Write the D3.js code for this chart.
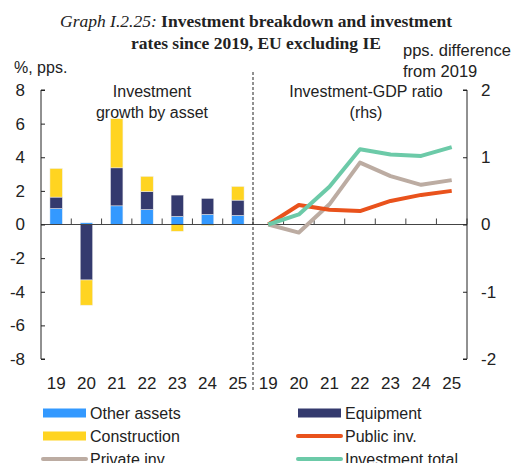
<!DOCTYPE html>
<html>
<head>
<meta charset="utf-8">
<script src="https://cdn.jsdelivr.net/npm/d3@7"></script>
<style>
  body { margin: 0; background: #fff; }
  text { font-family: "Liberation Sans", Arial, sans-serif; fill: #222; }
</style>
</head>
<body>
<div id="chart"></div>
<script>
// data
var years = ["19", "20", "21", "22", "23", "24", "25"];
var otherAssets = [0.95, 0.1, 1.11, 0.89, 0.48, 0.6, 0.54];
var equipment = [0.68, -3.3, 2.26, 1.07, 1.27, 0.95, 0.91];
var construction = [1.7, -1.5, 2.92, 0.9, -0.4, -0.06, 0.81];
var publicInv = [0, 0.29, 0.22, 0.2, 0.35, 0.44, 0.5];
var privateInv = [0, -0.12, 0.3, 0.92, 0.72, 0.59, 0.66];
var investmentTotal = [0, 0.15, 0.56, 1.12, 1.04, 1.02, 1.15];
var leftTicks = [-8, -6, -4, -2, 0, 2, 4, 6, 8];
var rightTicks = [-2, -1, 0, 1, 2];

var W = 513, H = 463;
var svg = d3.select("#chart").append("svg")
    .attr("width", W).attr("height", H);

var plotLeft = 41, plotMid = 253, plotRight = 467, plotTop = 90, plotBottom = 359;

var xL = d3.scaleBand().domain(years).range([plotLeft, plotMid]).padding(0);
var xR = d3.scaleBand().domain(years).range([plotMid, plotRight]).padding(0);
var yL = d3.scaleLinear().domain([-8, 8]).range([plotBottom, plotTop]);
var yR = d3.scaleLinear().domain([-2, 2]).range([plotBottom, plotTop]);
var plainNum = function (d) { return String(d); }; // keep a plain hyphen for negatives

// title
var title = svg.append("text").attr("x", 256).attr("y", 27)
    .attr("text-anchor", "middle")
    .style("font-family", "'Liberation Serif', 'Times New Roman', serif")
    .style("font-size", "17.5px");
title.append("tspan").style("font-style", "italic").text("Graph I.2.25: ");
title.append("tspan").style("font-weight", "bold").text("Investment breakdown and investment");
svg.append("text").attr("x", 256).attr("y", 49)
    .attr("text-anchor", "middle")
    .style("font-family", "'Liberation Serif', 'Times New Roman', serif")
    .style("font-size", "17.5px").style("font-weight", "bold")
    .text("rates since 2019, EU excluding IE");

svg.append("text").attr("x", 14).attr("y", 73).style("font-size", "16px").text("%, pps.");
svg.append("text").attr("x", 403).attr("y", 56).style("font-size", "16.5px").text("pps. difference");
svg.append("text").attr("x", 403).attr("y", 77).style("font-size", "16.5px").text("from 2019");

// stacked bars
var rows = years.map(function (y, i) {
    return { year: y, other: otherAssets[i], equipment: equipment[i], construction: construction[i] };
});
var keys = ["other", "equipment", "construction"];
var colors = { other: "#3399ff", equipment: "#343a6e", construction: "#ffd421" };
var series = d3.stack().keys(keys).offset(d3.stackOffsetDiverging)(rows);
var bw = xL.bandwidth() * 0.41;

svg.append("g").selectAll("g")
    .data(series)
    .enter().append("g")
    .attr("fill", function (s) { return colors[s.key]; })
    .selectAll("rect")
    .data(function (s) { return s; })
    .enter().append("rect")
    .attr("x", function (d) { return xL(d.data.year) + xL.bandwidth() / 2 - bw / 2; })
    .attr("width", bw)
    .attr("y", function (d) { return yL(Math.max(d[0], d[1])); })
    .attr("height", function (d) { return Math.abs(yL(d[0]) - yL(d[1])); })
    .attr("stroke", "#eeeeee")
    .attr("stroke-width", 0.5);

// zero line and category ticks
svg.append("line").attr("x1", plotLeft).attr("x2", plotRight)
    .attr("y1", yL(0)).attr("y2", yL(0))
    .attr("stroke", "#444").attr("stroke-width", 1.2);
var tickXs = years.map(function (y) { return xL(y) + xL.bandwidth(); })
    .concat(years.map(function (y) { return xR(y) + xR.bandwidth(); }));
svg.append("g").selectAll("line").data(tickXs).enter().append("line")
    .attr("x1", function (d) { return d; }).attr("x2", function (d) { return d; })
    .attr("y1", yL(0) - 6).attr("y2", yL(0))
    .attr("stroke", "#444").attr("stroke-width", 1);

// left axis
var axL = svg.append("g").attr("transform", "translate(" + plotLeft + ",0)")
    .call(d3.axisRight(yL).tickValues(leftTicks).tickSize(4).tickFormat(plainNum));
axL.selectAll(".domain").attr("stroke", "#222").attr("d", "M4," + plotTop + "H0V" + plotBottom + "H4");
axL.selectAll(".tick line").attr("stroke", "#222");
axL.selectAll(".tick text").attr("x", -16).attr("text-anchor", "end")
    .style("font-size", "17px").style("font-family", "'Liberation Sans', Arial, sans-serif").attr("fill", "#222");

// right axis
var axR = svg.append("g").attr("transform", "translate(" + plotRight + ",0)")
    .call(d3.axisLeft(yR).tickValues(rightTicks).tickSize(4).tickFormat(plainNum));
axR.selectAll(".domain").attr("stroke", "#222").attr("d", "M-4," + plotTop + "H0V" + plotBottom + "H-4");
axR.selectAll(".tick line").attr("stroke", "#222");
axR.selectAll(".tick text").attr("x", 14).attr("text-anchor", "start")
    .style("font-size", "17px").style("font-family", "'Liberation Sans', Arial, sans-serif").attr("fill", "#222");

// year labels
svg.append("g").selectAll("text").data(years).enter().append("text")
    .attr("x", function (d) { return xL(d) + xL.bandwidth() / 2; })
    .attr("y", 389).attr("text-anchor", "middle").style("font-size", "17px")
    .text(function (d) { return d; });
svg.append("g").selectAll("text").data(years).enter().append("text")
    .attr("x", function (d) { return xR(d) + xR.bandwidth() / 2; })
    .attr("y", 389).attr("text-anchor", "middle").style("font-size", "17px")
    .text(function (d) { return d; });

// divider
svg.append("line").attr("x1", plotMid).attr("x2", plotMid).attr("y1", 72).attr("y2", 392)
    .attr("stroke", "#222").attr("stroke-width", 1).attr("stroke-dasharray", "3,2");

// panel labels
svg.append("text").attr("x", 152).attr("y", 97).attr("text-anchor", "middle").style("font-size", "16px").text("Investment");
svg.append("text").attr("x", 152).attr("y", 118).attr("text-anchor", "middle").style("font-size", "16px").text("growth by asset");
svg.append("text").attr("x", 366).attr("y", 97).attr("text-anchor", "middle").style("font-size", "16px").text("Investment-GDP ratio");
svg.append("text").attr("x", 366).attr("y", 118).attr("text-anchor", "middle").style("font-size", "16px").text("(rhs)");

// lines
var lineData = [
    { name: "Private inv.", values: privateInv, color: "#bcaca2" },
    { name: "Public inv.", values: publicInv, color: "#e9521c" },
    { name: "Investment total", values: investmentTotal, color: "#6ccaa8" }
];
var line = d3.line()
    .x(function (d, i) { return xR(years[i]) + xR.bandwidth() / 2; })
    .y(function (d) { return yR(d); });
svg.append("g").selectAll("path").data(lineData).enter().append("path")
    .attr("d", function (d) { return line(d.values); })
    .attr("fill", "none")
    .attr("stroke", function (d) { return d.color; })
    .attr("stroke-width", 4)
    .attr("stroke-linejoin", "round");

// legend
var legend = [
    { name: "Other assets", color: colors.other, type: "rect", col: 0, row: 0 },
    { name: "Equipment", color: colors.equipment, type: "rect", col: 1, row: 0 },
    { name: "Construction", color: colors.construction, type: "rect", col: 0, row: 1 },
    { name: "Public inv.", color: "#e9521c", type: "line", col: 1, row: 1 },
    { name: "Private inv.", color: "#bcaca2", type: "line", col: 0, row: 2 },
    { name: "Investment total", color: "#6ccaa8", type: "line", col: 1, row: 2 }
];
var lg = svg.append("g").selectAll("g").data(legend).enter().append("g")
    .attr("transform", function (d) { return "translate(" + (d.col ? 298 : 43) + "," + (413 + d.row * 23) + ")"; });
lg.filter(function (d) { return d.type === "rect"; }).append("rect")
    .attr("x", 0).attr("y", -4.5).attr("width", 43).attr("height", 9)
    .attr("fill", function (d) { return d.color; });
lg.filter(function (d) { return d.type === "line"; }).append("line")
    .attr("x1", 0).attr("x2", 43).attr("y1", 0).attr("y2", 0)
    .attr("stroke", function (d) { return d.color; })
    .attr("stroke-width", 4).attr("stroke-linecap", "round");
lg.append("text").attr("x", 47).attr("y", 6).style("font-size", "16px")
    .text(function (d) { return d.name; });
</script>
</body>
</html>
